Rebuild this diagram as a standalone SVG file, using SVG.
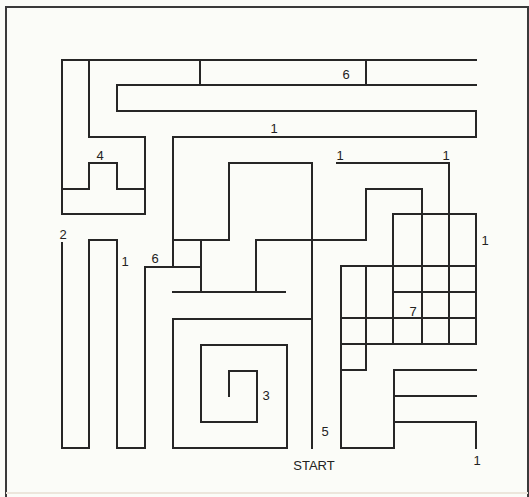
<svg xmlns="http://www.w3.org/2000/svg" width="529" height="497" viewBox="0 0 529 497">
  <style>
    .w { fill: none; stroke: #262626; stroke-width: 2; stroke-linecap: square; stroke-linejoin: miter; }
    .b { fill: none; stroke: #3a3a3a; stroke-width: 2; }
    .t { font-family: "Liberation Sans", Arial, sans-serif; font-size: 13px; fill: #222; text-anchor: middle; }
  </style>
  <rect x="0" y="0" width="529" height="497" fill="#fbfcf8"/>
  <g id="border">
    <path class="b" d="M6,497 V7 H528 V497"/>
    <path d="M6,493 H528" stroke="#ece6dc" stroke-width="2" fill="none"/>
  </g>
  <g id="walls">
    <path class="w" d="M476,60 H62 V214 H145 V137 H89 V60"/>
    <path class="w" d="M62,189 H89 V163 H117 V189 H145"/>
    <path class="w" d="M476,85 H117 V111 H476 V137 H173 V267"/>
    <path class="w" d="M200,60 V85 M366,60 V85"/>
    <path class="w" d="M62,243 V448 H89 V240 H117 V448 H145 V267 H201"/>
    <path class="w" d="M173,240 H229 V163 H312 V448"/>
    <path class="w" d="M201,240 V292 M173,292 H285"/>
    <path class="w" d="M256,292 V240 H366 V189 H422 V344"/>
    <path class="w" d="M337,163 H449 V344"/>
    <path class="w" d="M393,214 H476 V344 M393,214 V344"/>
    <path class="w" d="M341,266 H476 M393,292 H476 M341,318 H476 M341,344 H476"/>
    <path class="w" d="M341,266 V448 H394 V370 H476 M366,266 V370 H341"/>
    <path class="w" d="M394,396 H476 M394,422 H476 V448"/>
    <path class="w" d="M312,319 H173 V448 H287 V345 H201 V422 H257 V371 H229 V396"/>
  </g>
  <g id="labels">
    <text class="t" x="346" y="79">6</text>
    <text class="t" x="100" y="160">4</text>
    <text class="t" x="274" y="133">1</text>
    <text class="t" x="340" y="160">1</text>
    <text class="t" x="446" y="160">1</text>
    <text class="t" x="485" y="245">1</text>
    <text class="t" x="63" y="239">2</text>
    <text class="t" x="125" y="266">1</text>
    <text class="t" x="155" y="263">6</text>
    <text class="t" x="413" y="316">7</text>
    <text class="t" x="266" y="400">3</text>
    <text class="t" x="325" y="436">5</text>
    <text class="t" x="314" y="470">START</text>
    <text class="t" x="477" y="465">1</text>
  </g>
</svg>
